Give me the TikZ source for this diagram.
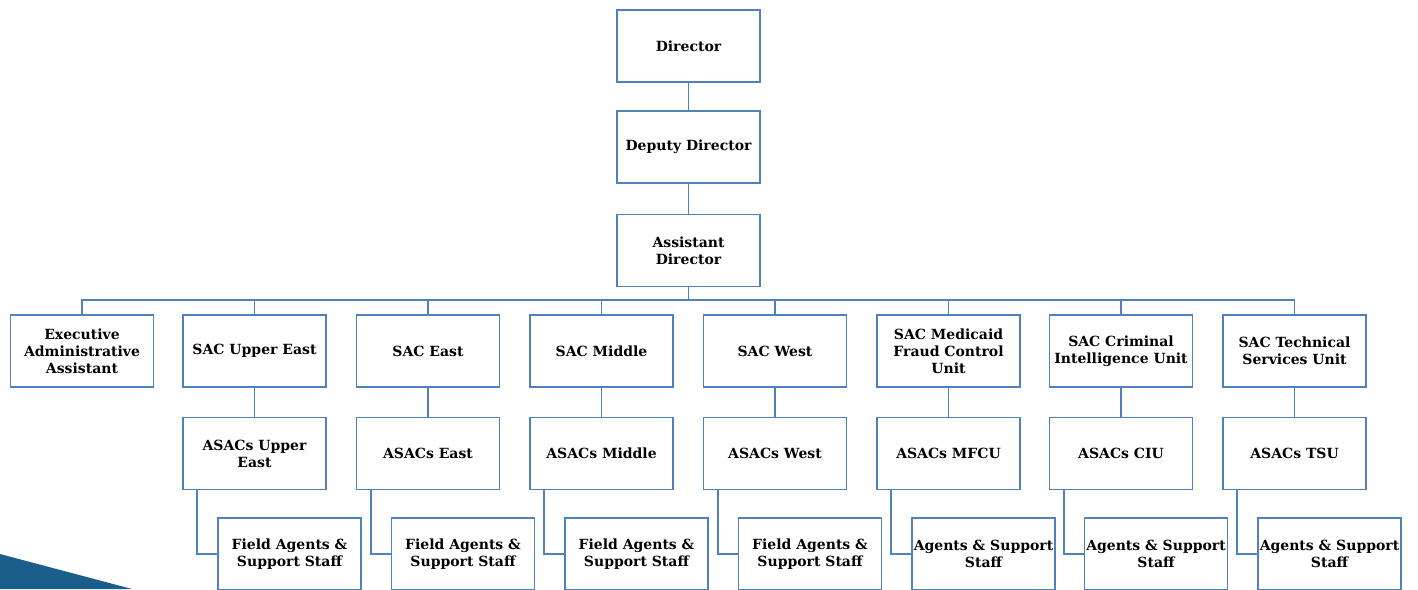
\documentclass[tikz,border=0pt]{standalone}
\usepackage{fontspec}
\setmainfont{DejaVu Serif}
\usepackage{tikz}
\usetikzlibrary{positioning}
\definecolor{orgblue}{RGB}{79,129,189}
\definecolor{wedgeblue}{RGB}{27,94,139}

\begin{document}
\begin{tikzpicture}[
    x=1pt, y=-1pt,
    unit/.style={rectangle, draw=orgblue, fill=white, line width=1.8pt, minimum width=143pt, minimum height=72pt, inner sep=0.5pt, align=center, font=\fontsize{14}{17}\selectfont\bfseries},
    link/.style={draw=orgblue, line width=1.8pt}
]
    \useasboundingbox (0,0) rectangle (1418,589);
    \clip (0,0) rectangle (1418,589);

    % Corner wedge
    \fill[wedgeblue] (0,554) -- (132,589) -- (0,589) -- cycle;

    % Top of the chain
    \node[unit] (dir) at (688.5,46) {Director};
    \node[unit] (dep) at (688.5,147) {Deputy Director};
    \node[unit] (asst) at (688.5,250.5) {Assistant\\Director};

    % SAC row
    \node[unit] (exec) at (82,351) {Executive\\Administrative\\Assistant};
    \node[unit] (sacue) at (254.5,351) {SAC Upper East};
    \node[unit] (sace) at (428,351) {SAC East};
    \node[unit] (sacm) at (601.5,351) {SAC Middle};
    \node[unit] (sacw) at (775,351) {SAC West};
    \node[unit] (sacmf) at (948.5,351) {SAC Medicaid\\Fraud Control\\Unit};
    \node[unit] (sacci) at (1121,351) {SAC Criminal\\Intelligence Unit};
    \node[unit] (sacts) at (1294.5,351) {SAC Technical\\Services Unit};

    % ASAC row
    \node[unit] (asue) at (254.5,453.5) {ASACs Upper\\East};
    \node[unit] (ase) at (428,453.5) {ASACs East};
    \node[unit] (asm) at (601.5,453.5) {ASACs Middle};
    \node[unit] (asw) at (775,453.5) {ASACs West};
    \node[unit] (asmf) at (948.5,453.5) {ASACs MFCU};
    \node[unit] (asci) at (1121,453.5) {ASACs CIU};
    \node[unit] (asts) at (1294.5,453.5) {ASACs TSU};

    % Staff row
    \node[unit] (fue) at (289.5,554) {Field Agents \&\\Support Staff};
    \node[unit] (fe) at (463,554) {Field Agents \&\\Support Staff};
    \node[unit] (fm) at (636.5,554) {Field Agents \&\\Support Staff};
    \node[unit] (fw) at (810,554) {Field Agents \&\\Support Staff};
    \node[unit] (fmf) at (983.5,554) {Agents \& Support\\Staff};
    \node[unit] (fci) at (1156,554) {Agents \& Support\\Staff};
    \node[unit] (fts) at (1329.5,554) {Agents \& Support\\Staff};

    % Chain of command
    \draw[link] (dir) -- (dep);
    \draw[link] (dep) -- (asst);
    \draw[link] (exec.north) -- ++(0,-14) -| (sacts.north);
    \draw[link] (asst.south) -- (asst.south |- 0,301);
    \foreach \s in {sacue,sace,sacm,sacw,sacmf,sacci}
        \draw[link] (\s.north) -- ++(0,-14);

    % SAC to ASAC
    \draw[link] (sacue) -- (asue);
    \draw[link] (sace) -- (ase);
    \draw[link] (sacm) -- (asm);
    \draw[link] (sacw) -- (asw);
    \draw[link] (sacmf) -- (asmf);
    \draw[link] (sacci) -- (asci);
    \draw[link] (sacts) -- (asts);

    % ASAC to staff
    \draw[link] ([xshift=15pt]asue.south west) |- (fue.west);
    \draw[link] ([xshift=15pt]ase.south west) |- (fe.west);
    \draw[link] ([xshift=15pt]asm.south west) |- (fm.west);
    \draw[link] ([xshift=15pt]asw.south west) |- (fw.west);
    \draw[link] ([xshift=15pt]asmf.south west) |- (fmf.west);
    \draw[link] ([xshift=15pt]asci.south west) |- (fci.west);
    \draw[link] ([xshift=15pt]asts.south west) |- (fts.west);
\end{tikzpicture}
\end{document}
